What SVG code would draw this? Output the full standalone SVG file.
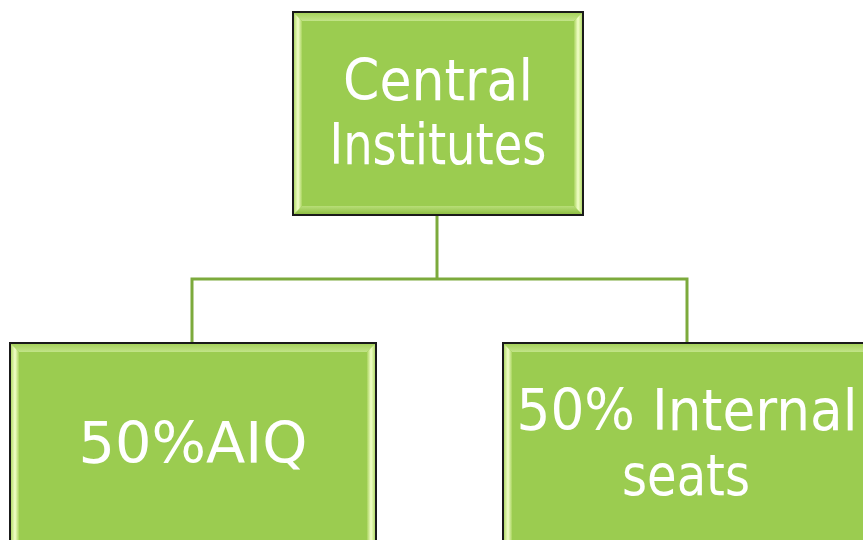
<svg xmlns="http://www.w3.org/2000/svg" width="863" height="540" viewBox="0 0 863 540">
<defs>
<linearGradient id="gl" x1="0" y1="0" x2="1" y2="0"><stop offset="0" stop-color="#b5dc6e"/><stop offset="0.5" stop-color="#f2ffc8"/><stop offset="1" stop-color="#a9d45e"/></linearGradient>
<linearGradient id="gr" x1="0" y1="0" x2="1" y2="0"><stop offset="0" stop-color="#a9d45e"/><stop offset="0.5" stop-color="#f2ffc8"/><stop offset="1" stop-color="#b5dc6e"/></linearGradient>
<linearGradient id="gt" x1="0" y1="0" x2="0" y2="1"><stop offset="0" stop-color="#a6d25c"/><stop offset="1" stop-color="#c2e488"/></linearGradient>
<linearGradient id="gb" x1="0" y1="0" x2="0" y2="1"><stop offset="0" stop-color="#b8de78"/><stop offset="1" stop-color="#8fbf44"/></linearGradient>
</defs>
<style>
.box{fill:#9bcc50;stroke:#1a1a1a;stroke-width:2}
.txt{font-family:"DejaVu Sans","Liberation Sans",sans-serif;fill:#ffffff;text-anchor:middle;font-size:57px}
.con{fill:none;stroke:#7caa3c;stroke-width:3}
</style>
<g id="connectors">
<path class="con" d="M437,215 V279"/>
<path class="con" d="M192,343 V279 H687 V343"/>
</g>
<g id="node-central">
<rect class="box" x="293" y="12" width="290" height="203"/>
<polygon points="294,13 582,13 574,21 302,21" fill="url(#gt)"/>
<polygon points="294,214 582,214 574,206 302,206" fill="url(#gb)"/>
<polygon points="294,13 302,21 302,206 294,214" fill="url(#gl)"/>
<polygon points="582,13 574,21 574,206 582,214" fill="url(#gr)"/>
<text class="txt" x="438" y="100" textLength="190" lengthAdjust="spacingAndGlyphs">Central</text>
<text class="txt" x="438" y="164" textLength="217" lengthAdjust="spacingAndGlyphs">Institutes</text>
</g>
<g id="node-aiq">
<rect class="box" x="10" y="343" width="366" height="210"/>
<polygon points="11,344 375,344 367,352 19,352" fill="url(#gt)"/>
<polygon points="11,344 19,352 19,545 11,545" fill="url(#gl)"/>
<polygon points="375,344 367,352 367,545 375,545" fill="url(#gr)"/>
<text class="txt" x="193" y="463" textLength="229" lengthAdjust="spacingAndGlyphs">50%AIQ</text>
</g>
<g id="node-internal">
<rect class="box" x="503" y="343" width="372" height="210"/>
<polygon points="504,344 874,344 866,352 512,352" fill="url(#gt)"/>
<polygon points="504,344 512,352 512,545 504,545" fill="url(#gl)"/>
<polygon points="874,344 866,352 866,545 874,545" fill="url(#gr)"/>
<text class="txt" x="687" y="430" textLength="341" lengthAdjust="spacingAndGlyphs">50% Internal</text>
<text class="txt" x="686" y="495" textLength="128" lengthAdjust="spacingAndGlyphs">seats</text>
</g>
</svg>
